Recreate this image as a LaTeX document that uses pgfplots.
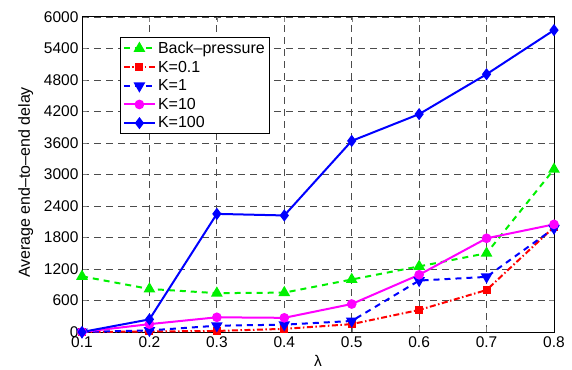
\documentclass[border=0pt]{standalone}
\usepackage{fontspec}
\setmainfont{Liberation Sans}
\usepackage{pgfplots}
\pgfplotsset{compat=1.18}
\definecolor{mgreen}{RGB}{0,240,0}
\definecolor{mmag}{RGB}{255,0,255}
\definecolor{mblue}{RGB}{0,0,255}
\definecolor{mred}{RGB}{255,0,0}
\begin{document}
\begin{tikzpicture}
\begin{axis}[
  scale only axis, width=472pt, height=315pt,
  xmin=0.1, xmax=0.8, ymin=0, ymax=6000,
  xtick={0.1,0.2,0.3,0.4,0.5,0.6,0.7,0.8},
  xticklabels={0.1,0.2,0.3,0.4,0.5,0.6,0.7,0.8},
  ytick={0,600,...,6000},
  scaled y ticks=false,
  /pgf/number format/assume math mode=true,
  /pgf/number format/set thousands separator={},
  tick label style={font=\fontsize{15.5}{17}\selectfont},
  xticklabel style={yshift=-1pt},
  xlabel={λ}, ylabel={Average end--to--end delay},
  xlabel style={font=\fontsize{15.5}{17}\selectfont, yshift=-1pt},
  ylabel style={font=\fontsize{16}{18}\selectfont, yshift=4pt, xshift=-8pt},
  grid=major, major grid style={gray!60!black, line width=0.9pt, dash pattern=on 7pt off 5pt},
  tick align=inside, tick pos=both, major tick length=5pt,
  axis line style={line width=1pt},
  legend style={at={(0.08,0.937)}, anchor=north west, font=\fontsize{16}{18}\selectfont, draw=black, line width=1pt, inner sep=2.5pt, row sep=2pt},
  legend cell align=left,
  legend image code/.code={\draw[mark repeat=2,mark phase=2] plot coordinates {(0cm,0cm) (0.55cm,0cm) (1.1cm,0cm)};},
  every axis plot/.append style={line width=2pt},
]
\coordinate (O) at (rel axis cs:0,0);
\coordinate (T) at (rel axis cs:1,1);
\addplot[color=mgreen, dash pattern=on 6pt off 5pt, mark=triangle*, mark size=4.8pt, mark options={solid}] coordinates {
(0.1,1060) (0.2,820) (0.3,740) (0.4,750) (0.5,1000) (0.6,1250) (0.7,1500) (0.8,3100)};
\addlegendentry{Back--pressure}
\addplot[color=mred, dash pattern=on 6pt off 2.5pt on 1.5pt off 2.5pt, mark=square*, mark size=3pt, mark options={solid}] coordinates {
(0.1,0) (0.2,10) (0.3,20) (0.4,60) (0.5,150) (0.6,420) (0.7,800) (0.8,2000)};
\addlegendentry{K=0.1}
\addplot[color=mblue, dash pattern=on 6pt off 5pt, mark=triangle*, mark size=4.8pt, mark options={solid, rotate=180}] coordinates {
(0.1,0) (0.2,30) (0.3,120) (0.4,140) (0.5,210) (0.6,980) (0.7,1050) (0.8,1975)};
\addlegendentry{K=1}
\addplot[color=mmag, mark=*, mark size=3.8pt] coordinates {
(0.1,0) (0.2,150) (0.3,280) (0.4,270) (0.5,533) (0.6,1090) (0.7,1785) (0.8,2050)};
\addlegendentry{K=10}
\addplot[color=mblue, mark=diamond*, mark size=4.5pt] coordinates {
(0.1,0) (0.2,240) (0.3,2250) (0.4,2220) (0.5,3640) (0.6,4150) (0.7,4910) (0.8,5750)};
\addlegendentry{K=100}
\end{axis}
\pgfresetboundingbox
\path[use as bounding box] ([shift={(-82pt,-37pt)}]O) rectangle ([shift={(18pt,17pt)}]T);
\end{tikzpicture}
\end{document}
